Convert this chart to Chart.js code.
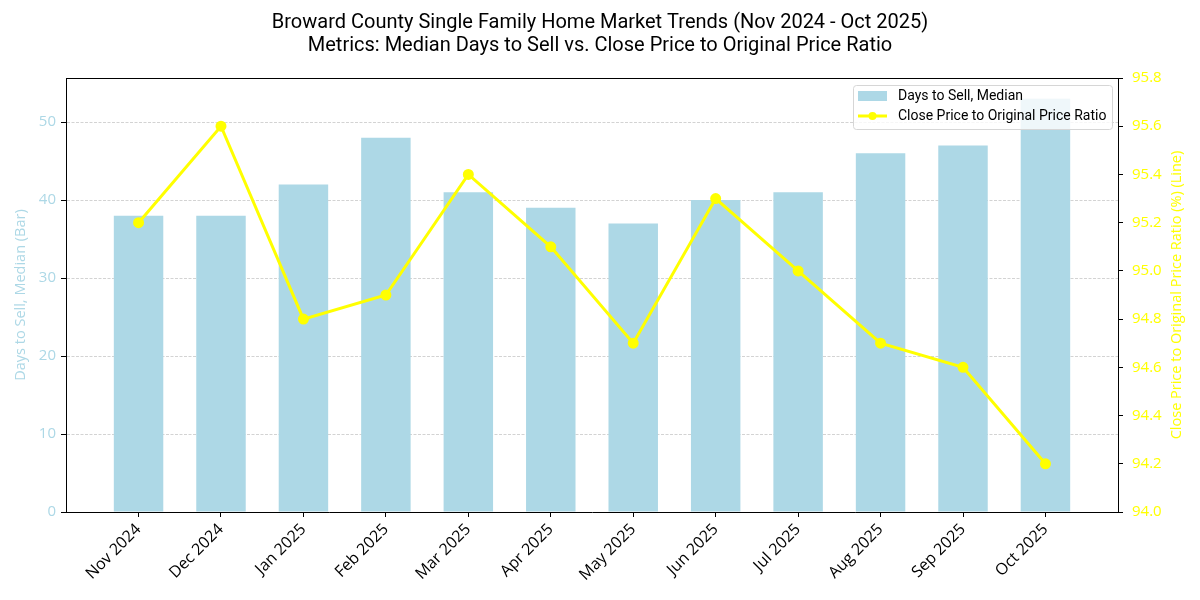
<!DOCTYPE html>
<html>
<head>
<meta charset="utf-8">
<script src="https://cdn.jsdelivr.net/npm/chart.js@4.4.1/dist/chart.umd.min.js"></script>
<style>
  html, body { margin: 0; padding: 0; background: #fff; }
</style>
</head>
<body>
<canvas id="chart" width="1200" height="600"></canvas>
<script>
const months = ['Nov 2024', 'Dec 2024', 'Jan 2025', 'Feb 2025', 'Mar 2025', 'Apr 2025',
                'May 2025', 'Jun 2025', 'Jul 2025', 'Aug 2025', 'Sep 2025', 'Oct 2025'];
const daysToSell = [38, 38, 42, 48, 41, 39, 37, 40, 41, 46, 47, 53];
const priceRatio = [95.2, 95.6, 94.8, 94.9, 95.4, 95.1, 94.7, 95.3, 95.0, 94.7, 94.6, 94.2];
const leftTicks = [0, 10, 20, 30, 40, 50];
const rightTicks = [94.0, 94.2, 94.4, 94.6, 94.8, 95.0, 95.2, 95.4, 95.6, 95.8];

const barLabel = 'Days to Sell, Median';
const lineLabel = 'Close Price to Original Price Ratio';
const rightTitle = 'Close Price to Original Price Ratio (%) (Line)';
const barColor = '#add8e6';
const lineColor = '#ffff00';

const tickFont = { family: 'Open Sans', size: 15 };

// frame round the plot area, right axis title (bottom-to-top) and a boxed legend inside
const frameAndLegend = {
    id: 'frameAndLegend',
    afterDraw(chart) {
        const ctx = chart.ctx;
        const a = chart.chartArea;
        ctx.save();
        ctx.strokeStyle = '#000';
        ctx.lineWidth = 1;
        ctx.beginPath();
        ctx.moveTo(a.left, a.top + 0.5);
        ctx.lineTo(a.right, a.top + 0.5);
        ctx.stroke();

        // right axis title
        ctx.save();
        ctx.translate(1177, (a.top + a.bottom) / 2);
        ctx.rotate(-Math.PI / 2);
        ctx.fillStyle = lineColor;
        ctx.font = '14.5px "Open Sans"';
        ctx.textAlign = 'center';
        ctx.textBaseline = 'middle';
        ctx.fillText(rightTitle, 0, 0);
        ctx.restore();

        // legend
        const w = 259, h = 44;
        const x = a.right - 6 - w, y = a.top + 7;
        ctx.beginPath();
        ctx.roundRect(x + 0.5, y + 0.5, w, h, 3);
        ctx.fillStyle = 'rgba(255,255,255,0.8)';
        ctx.fill();
        ctx.strokeStyle = '#d6d6d6';
        ctx.stroke();

        ctx.fillStyle = barColor;
        ctx.fillRect(x + 5, y + 6, 29, 10);

        ctx.strokeStyle = lineColor;
        ctx.lineWidth = 3;
        ctx.beginPath();
        ctx.moveTo(x + 5, y + 31);
        ctx.lineTo(x + 34, y + 31);
        ctx.stroke();
        ctx.fillStyle = lineColor;
        ctx.beginPath();
        ctx.arc(x + 19.5, y + 31, 4, 0, Math.PI * 2);
        ctx.fill();

        ctx.fillStyle = '#000';
        ctx.font = '14px Roboto';
        ctx.textBaseline = 'middle';
        ctx.fillText(barLabel, x + 45, y + 11);
        ctx.fillText(lineLabel, x + 45, y + 31);
        ctx.restore();
    }
};

new Chart(document.getElementById('chart'), {
    data: {
        datasets: [
            {
                type: 'line',
                label: lineLabel,
                data: priceRatio.map((v, i) => ({ x: i, y: v })),
                yAxisID: 'y1',
                borderColor: lineColor,
                backgroundColor: lineColor,
                borderWidth: 3,
                pointRadius: 4,
                pointHoverRadius: 4,
                tension: 0,
                order: 0
            },
            {
                type: 'bar',
                label: barLabel,
                data: daysToSell.map((v, i) => ({ x: i, y: v })),
                yAxisID: 'y',
                backgroundColor: barColor,
                categoryPercentage: 1.0,
                barPercentage: 0.6,
                order: 1
            }
        ]
    },
    options: {
        responsive: false,
        animation: false,
        layout: { padding: 0 },
        plugins: {
            legend: { display: false },
            tooltip: { enabled: false },
            title: {
                display: true,
                text: ['Broward County Single Family Home Market Trends (Nov 2024 - Oct 2025)',
                       'Metrics: Median Days to Sell vs. Close Price to Original Price Ratio'],
                color: '#000',
                font: { family: 'Roboto', size: 20, weight: 'normal', lineHeight: 1.15 },
                padding: { top: 11, bottom: 21 }
            }
        },
        scales: {
            x: {
                type: 'linear',
                min: -0.88,
                max: 11.88,
                offset: false,
                afterBuildTicks: (scale) => { scale.ticks = months.map((m, i) => ({ value: i })); },
                afterFit: (scale) => { scale.height = 88; },
                ticks: {
                    autoSkip: false,
                    maxRotation: 45,
                    minRotation: 45,
                    padding: 3,
                    color: '#000',
                    font: { family: 'Open Sans', size: 16 },
                    callback: (v) => months[v]
                },
                grid: { offset: false, drawOnChartArea: false, drawTicks: true, tickLength: 5, tickColor: '#000', tickBorderDash: [] },
                border: { color: '#000', width: 1 }
            },
            y: {
                position: 'left',
                min: 0,
                max: 55.65,
                z: 1,
                afterBuildTicks: (scale) => { scale.ticks = leftTicks.map(v => ({ value: v })); },
                afterFit: (scale) => { scale.width = 66; },
                ticks: { color: barColor, font: tickFont, padding: 5 },
                title: {
                    display: true,
                    text: 'Days to Sell, Median (Bar)',
                    color: barColor,
                    font: { family: 'Open Sans', size: 14.5 },
                    padding: { top: 12, bottom: 0 }
                },
                grid: { color: 'rgba(176,176,176,0.7)', lineWidth: 0.8, tickLength: 5, tickColor: '#000', tickWidth: 1, tickBorderDash: [] },
                border: { color: '#000', width: 1, dash: [3, 1.5] }
            },
            y1: {
                position: 'right',
                min: 94.0,
                max: 95.8,
                afterBuildTicks: (scale) => { scale.ticks = rightTicks.map(v => ({ value: v })); },
                afterFit: (scale) => { scale.width = 82; },
                ticks: { color: lineColor, font: tickFont, padding: 9, callback: (v) => v.toFixed(1) },
                grid: { drawOnChartArea: false, tickLength: 5, tickColor: '#000', tickBorderDash: [] },
                border: { color: '#000', width: 1 }
            }
        }
    },
    plugins: [frameAndLegend]
});
</script>
</body>
</html>
